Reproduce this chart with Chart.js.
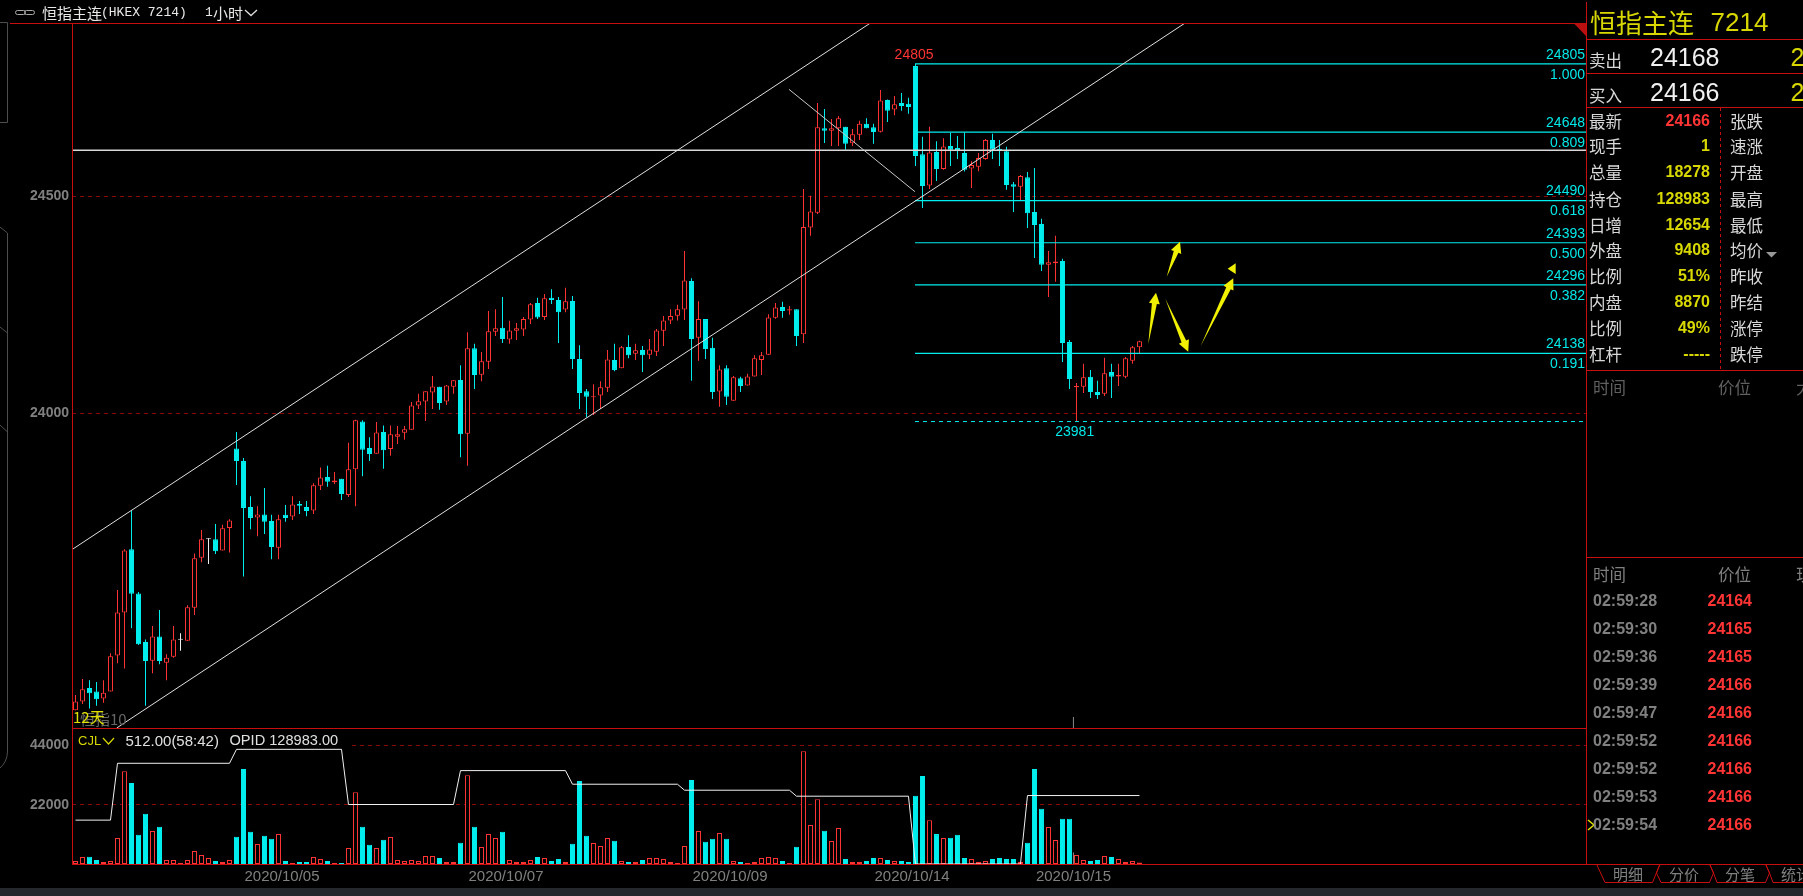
<!DOCTYPE html>
<html>
<head>
<meta charset="utf-8">
<title>恒指主连 7214</title>
<script src="https://cdn.jsdelivr.net/npm/chart.js@4"></script>
<style>
  html, body { margin: 0; background: #000; width: 1803px; height: 896px; overflow: hidden; }
  #chart { position: absolute; left: 0; top: 0; }
  #frame { position: absolute; left: 0; top: 0; pointer-events: none; }
  .t { position: absolute; white-space: pre; line-height: 1; font-family: "Liberation Sans", "Noto Sans CJK SC", sans-serif; }
  #strip { position: absolute; left: 0; top: 888px; width: 1803px; height: 8px; background: #25282c; }
  #legendBg { position: absolute; left: 73px; top: 731px; width: 275px; height: 17px; background: #000; }
</style>
</head>
<body>
<canvas id="chart" width="1803" height="896"></canvas>
<div id="legendBg"></div>
<svg id="frame" width="1803" height="896">
  <g fill="none" stroke="#4d4d4d">
    <path d="M0 22.5H7.5V122.5H0"/>
    <path d="M0 227L7.5 233V752Q7 762 0 768"/>
    <path d="M0 327L7.5 333M0 425L7.5 432"/>
    <rect x="15.5" y="10.5" width="10" height="4" rx="2" stroke="#aaa"/>
    <rect x="24.5" y="10.5" width="10" height="4" rx="2" stroke="#aaa"/>
    <path d="M245 10L251 15.5L257 10" stroke="#ddd" stroke-width="1.3"/>
    <path d="M103 738L108.5 744L114 738" stroke="#d8d800" stroke-width="1.2"/>
  </g>
  <g fill="none" stroke="#c80f0f">
    <path d="M10 23.5H1586.5"/>
    <path d="M72.5 23V864.5"/>
    <path d="M72 728.5H1586"/>
    <path d="M72 864.5H1803"/>
    <path d="M1586.5 2V864"/>
    <path d="M1587 39.5H1803M1587 73.5H1803M1587 107.5H1803M1587 370.5H1803M1587 557.5H1803"/>
    <path d="M1720.5 108V369" stroke-dasharray="3 3"/>
    <path d="M1596.5 864L1605 882.5H1652.5L1660 864"/>
    <path d="M1660 864L1656.5 873L1661 882.5H1709.5L1713.5 873L1709.5 864"/>
    <path d="M1709.5 864L1713.5 873L1717 882.5H1765.5L1769.5 873L1765.5 864"/>
    <path d="M1765.5 864L1769.5 873L1773 882.5H1803"/>
  </g>
  <path d="M1574 23.5H1586V36Z" fill="#b81010"/>
  <path d="M1766 252H1777L1771.5 257.5Z" fill="#999"/>
  <path d="M1588 820L1594 825L1588 830" fill="none" stroke="#e8e800" stroke-width="1.4"/>
</svg>
<div id="strip"></div>
<script>
const opens = [
  23316,23336,23367,23359,23343,23359,23442,23541,23687,23585,
  23473,23430,23486,23425,23439,23478,23476,23552,23667,23710,
  23710,23684,23736,23919,23890,23784,23760,23767,23752,23690,
  23766,23762,23791,23784,23776,23833,23853,23841,23849,23812,
  23871,23981,23920,23907,23957,23918,23946,23955,23962,24018,
  24027,24048,24061,24027,24061,24077,23953,24150,24089,24119,
  24188,24197,24170,24190,24193,24216,24254,24222,24266,24261,
  24239,24259,24125,24051,24037,24041,24059,24123,24104,24153,
  24137,24146,24135,24142,24190,24214,24225,24239,24305,24174,
  24217,24151,24050,24104,24029,24081,24064,24085,24123,24135,
  24220,24245,24237,24240,24182,24428,24462,24657,24651,24657,
  24660,24622,24642,24667,24659,24649,24722,24700,24715,24713,
  24800,24597,24525,24602,24563,24616,24611,24600,24564,24568,
  24586,24630,24609,24604,24528,24522,24544,24464,24436,24342,
  24346,24351,24164,24060,24061,24084,24049,24045,24095,24085,24084,24121,24152
];
const highs = [
  23351,23388,23385,23381,23385,23447,23593,23687,23777,23588,
  23479,23510,23547,23445,23510,23493,23558,23677,23731,23712,
  23745,23743,23756,23957,23897,23809,23786,23828,23766,23766,
  23789,23809,23798,23798,23839,23875,23879,23865,23849,23932,
  23985,23984,23945,23980,23972,23972,23971,23971,24026,24045,
  24051,24086,24061,24065,24077,24111,24187,24160,24141,24236,
  24240,24268,24213,24208,24222,24254,24266,24275,24286,24268,
  24289,24270,24157,24056,24067,24074,24146,24160,24155,24180,
  24160,24155,24171,24194,24224,24240,24250,24374,24311,24258,
  24217,24174,24111,24111,24086,24084,24091,24134,24141,24228,
  24254,24257,24247,24240,24517,24501,24715,24701,24678,24685,
  24660,24655,24674,24680,24667,24745,24723,24731,24738,24727,
  24805,24637,24660,24627,24634,24646,24639,24647,24581,24600,
  24632,24644,24630,24614,24533,24549,24556,24565,24448,24374,
  24409,24356,24169,24070,24114,24100,24075,24128,24114,24114,24130,24155,24167
];
const lows = [
  23316,23330,23320,23326,23333,23359,23424,23412,23505,23466,
  23326,23401,23422,23385,23437,23453,23476,23535,23657,23653,
  23676,23684,23679,23835,23624,23733,23717,23722,23664,23664,
  23750,23754,23768,23763,23768,23823,23831,23837,23800,23807,
  23786,23855,23890,23907,23872,23902,23929,23939,23962,24010,
  23982,24010,24008,24019,24045,23899,23879,24056,24074,24102,
  24178,24162,24160,24169,24178,24206,24217,24215,24252,24162,
  24233,24102,24010,23991,23996,24010,24049,24097,24104,24127,
  24123,24095,24125,24132,24155,24206,24214,24215,24075,24121,
  24125,24033,24015,24019,24029,24049,24064,24085,24088,24135,
  24218,24220,24227,24155,24162,24409,24459,24623,24616,24616,
  24607,24616,24630,24657,24621,24647,24671,24687,24697,24690,
  24570,24473,24517,24535,24561,24570,24586,24557,24519,24558,
  24584,24586,24570,24515,24464,24491,24427,24358,24328,24268,
  24303,24118,24056,23981,24047,24035,24033,24040,24035,24063,24081,24114,24138
];
const closes = [
  23336,23364,23355,23341,23356,23440,23541,23684,23584,23468,
  23429,23486,23429,23437,23479,23478,23553,23666,23710,23710,
  23682,23735,23753,23890,23782,23759,23767,23750,23692,23756,
  23759,23790,23787,23775,23834,23852,23842,23845,23814,23871,
  23984,23916,23906,23956,23915,23952,23952,23963,24018,24028,
  24051,24062,24024,24064,24076,23952,24150,24088,24120,24189,
  24196,24171,24191,24196,24217,24251,24221,24265,24261,24233,
  24258,24125,24047,24038,24039,24060,24124,24100,24152,24134,
  24145,24134,24147,24191,24214,24224,24240,24306,24171,24217,
  24148,24049,24101,24038,24083,24063,24085,24127,24134,24221,
  24244,24236,24240,24178,24429,24465,24659,24651,24657,24680,
  24621,24643,24667,24657,24648,24721,24697,24712,24708,24706,
  24593,24524,24601,24563,24615,24607,24605,24561,24572,24588,
  24630,24607,24606,24526,24522,24547,24461,24434,24342,24348,
  24350,24162,24079,24063,24083,24049,24042,24092,24084,24088,24127,24152,24166
];
const volumes = [
  1109,2587,2710,1478,739,1109,9610,34373,30061,10842,
  18603,12197,13798,1478,1478,370,1478,4805,3326,2218,
  1109,739,1478,10102,35235,11950,7392,10472,9363,11088,
  1109,370,739,739,2587,1848,1109,370,370,5914,
  26611,13798,7146,5914,8994,9979,1478,1109,1478,1109,
  2957,2957,2218,739,739,7885,32894,13798,6283,11088,
  9610,11950,1478,739,739,1478,2587,2218,1109,1848,
  739,7515,30800,10472,7762,6653,9610,8624,1109,739,
  739,1478,2218,2218,1848,739,370,6653,31170,12197,
  8254,9363,11458,9363,1109,739,370,739,2218,2587,
  2218,1109,370,6406,41765,14414,24024,12320,8501,13306,
  1848,739,739,1109,2218,2218,1478,1109,1109,739,
  25256,32648,16262,11088,9610,9733,10842,2218,1848,739,
  1109,1848,2218,1848,1848,739,7885,35235,20451,13675,
  8870,16755,16755,3326,1478,1109,1478,2957,2587,1848,739,1109,512
];
const cjlBars = [1,6,7,23,24,39,40,55,56,71,72,87,88,103,104,120,121,136,137,153];
const cjlValues = [16262,16262,37330,37330,42504,42504,22053,22053,34619,34619,29568,29568,27350,27350,25133,25133,0,0,25379,25379];

const priceTicks = [24500, 24000];
const volumeTicks = [44000, 22000];
const dateBars = [30.5, 62.5, 94.5, 120.5, 143.57];
const dateLabels = ["2020/10/05", "2020/10/07", "2020/10/09", "2020/10/14", "2020/10/15"];

const fibPrices = [24805, 24648, 24490, 24393, 24296, 24138];
const fibRatios = ["1.000", "0.809", "0.618", "0.500", "0.382", "0.191"];
const fibStarts = [120.93, 121.3, 120.93, 120.93, 120.93, 120.93];
const lowPrice = 23981;
const flatPrice = 24606;

const upperChannelX = [0.5, 114.54];
const upperChannelY = [23686, 24899];
const lowerChannelX = [6.89, 159.49];
const lowerChannelY = [23275, 24899];
const slashX = [102.93, 120.93];
const slashY = [24746.5, 24510.6];

// tail bar, tail price, tip bar, tip price
const arrows = [
  [154.26, 24159.7, 155.36, 24278],
  [156.89, 24314.9, 158.79, 24395.5],
  [156.69, 24264.2, 159.97, 24142.1],
  [161.74, 24155.1, 166.4, 24311]
];
const markerBar = [165.6, 166.74];
const markerPrice = [24333.3, 24345.6, 24321];
const cursorBar = 143.57;

const RED = "#ff3434";
const CYAN = "#00eeee";
const bars = opens.map((v, i) => i + 1);
const barColor = bars.map((b, i) => closes[i] > opens[i] ? RED : closes[i] < opens[i] ? CYAN : "#f0f0f0");
const bodyFill = barColor.map((c) => c === RED ? "#000" : c);
const volColor = barColor.map((c) => c === CYAN ? CYAN : RED);
const volFill = volColor.map((c) => c === RED ? "#000" : c);

function line(xs, ys, color, extra) {
  return Object.assign({
    type: "line",
    data: xs.map((x, i) => ({ x: x, y: ys[i] })),
    borderColor: color,
    borderWidth: 1,
    pointRadius: 0,
    tension: 0,
    order: 1,
    yAxisID: "y"
  }, extra);
}

const datasets = [
  {
    label: "wick",
    data: bars.map((b, i) => ({ x: b, y: [lows[i], highs[i]] })),
    backgroundColor: barColor,
    barThickness: 1,
    order: 4,
    yAxisID: "y"
  },
  {
    label: "body",
    data: bars.map((b, i) => ({ x: b, y: [Math.min(opens[i], closes[i]), Math.max(opens[i], closes[i])] })),
    backgroundColor: bodyFill,
    borderColor: barColor,
    borderWidth: 1,
    borderSkipped: false,
    barThickness: 5,
    minBarLength: 1,
    order: 3,
    yAxisID: "y"
  },
  {
    label: "volume",
    data: bars.map((b, i) => ({ x: b, y: volumes[i] })),
    backgroundColor: volFill,
    borderColor: volColor,
    borderWidth: 1,
    borderSkipped: false,
    barThickness: 5,
    order: 3,
    yAxisID: "yVol"
  },
  line(cjlBars, cjlValues, "#f0f0f0", { yAxisID: "yVol", label: "OPID", order: 2 }),
  line(upperChannelX, upperChannelY, "#e0e0e0", { label: "upper" }),
  line(lowerChannelX, lowerChannelY, "#e0e0e0", { label: "lower" }),
  line(slashX, slashY, "#c8c8c8", { label: "slash" }),
  line([0.5, 216.79], [flatPrice, flatPrice], "#d8d8d8", { label: "flat", borderWidth: 1.4 }),
  line([120.93, 216.6], [lowPrice, lowPrice], CYAN, { label: "low", borderDash: [4, 4] }),
  line([cursorBar, cursorBar], [23300, 23275], "#808080", { label: "cursor" }),
  line([cursorBar, cursorBar], [4178, 0], "#808080", { label: "cursor2", yAxisID: "yVol" })
];
fibPrices.forEach((p, i) => {
  datasets.push(line([fibStarts[i], 216.79], [p, p], CYAN, { label: "fib" + fibRatios[i], borderWidth: 1.2 }));
});

const overlay = {
  id: "overlay",
  afterDatasetsDraw(chart) {
    const ctx = chart.ctx;
    const sx = chart.scales.x;
    const sy = chart.scales.y;

    ctx.save();
    ctx.textBaseline = "middle";
    ctx.font = '14px "Liberation Sans"';
    ctx.fillStyle = "#00e8e8";
    ctx.textAlign = "right";
    fibPrices.forEach((p, i) => {
      const y = sy.getPixelForValue(p);
      ctx.fillText(String(p), 1585, y - 9);
      ctx.fillText(fibRatios[i], 1585, y + 11);
    });
    ctx.textAlign = "center";
    ctx.fillText(String(lowPrice), sx.getPixelForValue(143.75), sy.getPixelForValue(lowPrice) + 11);
    ctx.fillStyle = RED;
    ctx.fillText("24805", sx.getPixelForValue(120.8), sy.getPixelForValue(24805) - 9);

    ctx.fillStyle = "#f0f000";
    arrows.forEach((a) => {
      const x0 = sx.getPixelForValue(a[0]), y0 = sy.getPixelForValue(a[1]);
      const x1 = sx.getPixelForValue(a[2]), y1 = sy.getPixelForValue(a[3]);
      const len = Math.hypot(x1 - x0, y1 - y0);
      const ux = (x1 - x0) / len, uy = (y1 - y0) / len;
      const nx = -uy, ny = ux;
      const bx = x1 - ux * 11, by = y1 - uy * 11;
      ctx.beginPath();
      ctx.moveTo(x0, y0);
      ctx.lineTo(bx + nx * 2.5, by + ny * 2.5);
      ctx.lineTo(bx + nx * 5.5, by + ny * 5.5);
      ctx.lineTo(x1, y1);
      ctx.lineTo(bx - nx * 5.5, by - ny * 5.5);
      ctx.lineTo(bx - nx * 2.5, by - ny * 2.5);
      ctx.closePath();
      ctx.fill();
    });
    ctx.beginPath();
    ctx.moveTo(sx.getPixelForValue(markerBar[0]), sy.getPixelForValue(markerPrice[0]));
    ctx.lineTo(sx.getPixelForValue(markerBar[1]), sy.getPixelForValue(markerPrice[1]));
    ctx.lineTo(sx.getPixelForValue(markerBar[1]), sy.getPixelForValue(markerPrice[2]));
    ctx.closePath();
    ctx.fill();
    ctx.restore();
  }
};

new Chart(document.getElementById("chart").getContext("2d"), {
  type: "bar",
  data: { datasets: datasets },
  plugins: [overlay],
  options: {
    responsive: false,
    animation: false,
    devicePixelRatio: 1,
    layout: { padding: { left: 0, top: 23, right: 217, bottom: 0 } },
    plugins: { legend: { display: false }, tooltip: { enabled: false } },
    datasets: { bar: { grouped: false, inflateAmount: 0 } },
    scales: {
      x: {
        type: "linear",
        offset: false,
        min: 0.5,
        max: 216.79,
        grid: { display: false, drawTicks: false },
        border: { display: false },
        afterFit(axis) { axis.height = 32; },
        afterBuildTicks(axis) { axis.ticks = dateBars.map((v) => ({ value: v })); },
        ticks: {
          autoSkip: false,
          maxRotation: 0,
          padding: 4,
          color: "#808080",
          font: { family: "Liberation Sans", size: 15 },
          callback: (v) => dateLabels[dateBars.indexOf(v)]
        }
      },
      y: {
        type: "linear",
        position: "left",
        stack: "panes",
        stackWeight: 705,
        weight: 1,
        beginAtZero: false,
        min: 23274.9,
        max: 24899.3,
        border: { display: false, dash: [4, 4] },
        grid: { color: "#8a0a0a", drawTicks: false },
        afterFit(axis) { axis.width = 72; },
        afterBuildTicks(axis) { axis.ticks = priceTicks.map((v) => ({ value: v })); },
        ticks: {
          padding: 3,
          color: "#808080",
          font: { family: "Liberation Sans", size: 14, weight: "bold" },
          callback: (v) => String(v)
        }
      },
      yVol: {
        type: "linear",
        axis: "y",
        position: "left",
        stack: "panes",
        stackWeight: 136,
        weight: 0,
        beginAtZero: true,
        min: 0,
        max: 50412,
        border: { display: false, dash: [4, 4] },
        grid: { color: "#8a0a0a", drawTicks: false },
        afterFit(axis) { axis.width = 72; },
        afterBuildTicks(axis) { axis.ticks = volumeTicks.map((v) => ({ value: v })); },
        ticks: {
          padding: 3,
          color: "#808080",
          font: { family: "Liberation Sans", size: 14, weight: "bold" },
          callback: (v) => String(v)
        }
      }
    }
  }
});

// everything around the plot is page text
function addText(text, x, y, size, color, opts) {
  opts = opts || {};
  const el = document.createElement("div");
  el.className = "t";
  el.textContent = text;
  el.style.left = x + "px";
  el.style.top = y + "px";
  el.style.fontSize = size + "px";
  el.style.color = color;
  if (opts.bold) el.style.fontWeight = "bold";
  if (opts.family) el.style.fontFamily = opts.family;
  el.style.transform = opts.right ? "translate(-100%,-50%)" : "translate(0,-50%)";
  document.body.appendChild(el);
}

const CJK = '"Noto Sans CJK SC", sans-serif';
const MONO = '"Liberation Mono", monospace';

addText("恒指主连", 42, 12, 15, "#e8e8e8", { family: CJK });
addText("(HKEX 7214)", 101, 12, 13, "#e8e8e8", { family: MONO });
addText("1", 205, 12, 13, "#e8e8e8", { family: MONO });
addText("小时", 213, 12, 15, "#e8e8e8", { family: CJK });

addText("恒指10", 80, 718, 15, "#666666", { family: CJK });
addText("12天", 73, 716, 15, "#e0e000", { family: CJK });
addText("CJL", 78, 740, 13, "#d8d800");
addText("512.00(58:42)", 125.5, 740, 15, "#e0e0e0");
addText("OPID 128983.00", 229.5, 740, 14.6, "#e0e0e0");

addText("恒指主连", 1590, 22, 26, "#d8d800", { family: CJK });
addText("7214", 1710.5, 22, 26, "#d8d800");
addText("卖出", 1589, 60, 16.5, "#d8d8d8", { family: CJK });
addText("24168", 1650, 56.5, 25, "#f0f0f0");
addText("2", 1790.5, 56.5, 25, "#d8d800");
addText("买入", 1589, 95, 16.5, "#d8d8d8", { family: CJK });
addText("24166", 1650, 91.5, 25, "#f0f0f0");
addText("2", 1790.5, 91.5, 25, "#d8d800");

const quoteRows = [120.5, 146, 172, 198.5, 224.5, 250, 276, 302, 328, 354];
const quoteNames = ["最新", "现手", "总量", "持仓", "日增", "外盘", "比例", "内盘", "比例", "杠杆"];
const quoteValues = ["24166", "1", "18278", "128983", "12654", "9408", "51%", "8870", "49%", "-----"];
const quoteRight = ["张跌", "速涨", "开盘", "最高", "最低", "均价", "昨收", "昨结", "涨停", "跌停"];
quoteRows.forEach((y, i) => {
  addText(quoteNames[i], 1589, y, 16.5, "#d8d8d8", { family: CJK });
  addText(quoteValues[i], 1710, y, 16, i === 0 ? "#ff3434" : "#d8d800", { bold: true, right: true });
  addText(quoteRight[i], 1730, y, 16.5, "#d8d8d8", { family: CJK });
});

addText("时间", 1593, 387, 16.5, "#606060", { family: CJK });
addText("价位", 1718, 387, 16.5, "#606060", { family: CJK });
addText("大", 1796, 387, 16.5, "#606060", { family: CJK });
addText("时间", 1593, 574, 16.5, "#808080", { family: CJK });
addText("价位", 1718, 574, 16.5, "#808080", { family: CJK });
addText("现", 1796, 574, 16.5, "#808080", { family: CJK });

const tickTimes = ["02:59:28", "02:59:30", "02:59:36", "02:59:39", "02:59:47", "02:59:52", "02:59:52", "02:59:53", "02:59:54"];
const tickPrices = [24164, 24165, 24165, 24166, 24166, 24166, 24166, 24166, 24166];
const tickRows = [601, 629, 657, 685, 713, 741, 769, 797, 825];
tickRows.forEach((y, i) => {
  addText(tickTimes[i], 1593, y, 16, "#808080", { bold: true });
  addText(String(tickPrices[i]), 1752, y, 16, "#ff3434", { bold: true, right: true });
});

addText("明细", 1613, 873, 15, "#808080", { family: CJK });
addText("分价", 1669, 873, 15, "#808080", { family: CJK });
addText("分笔", 1725, 873, 15, "#808080", { family: CJK });
addText("统计", 1781, 873, 15, "#808080", { family: CJK });
</script>
</body>
</html>
